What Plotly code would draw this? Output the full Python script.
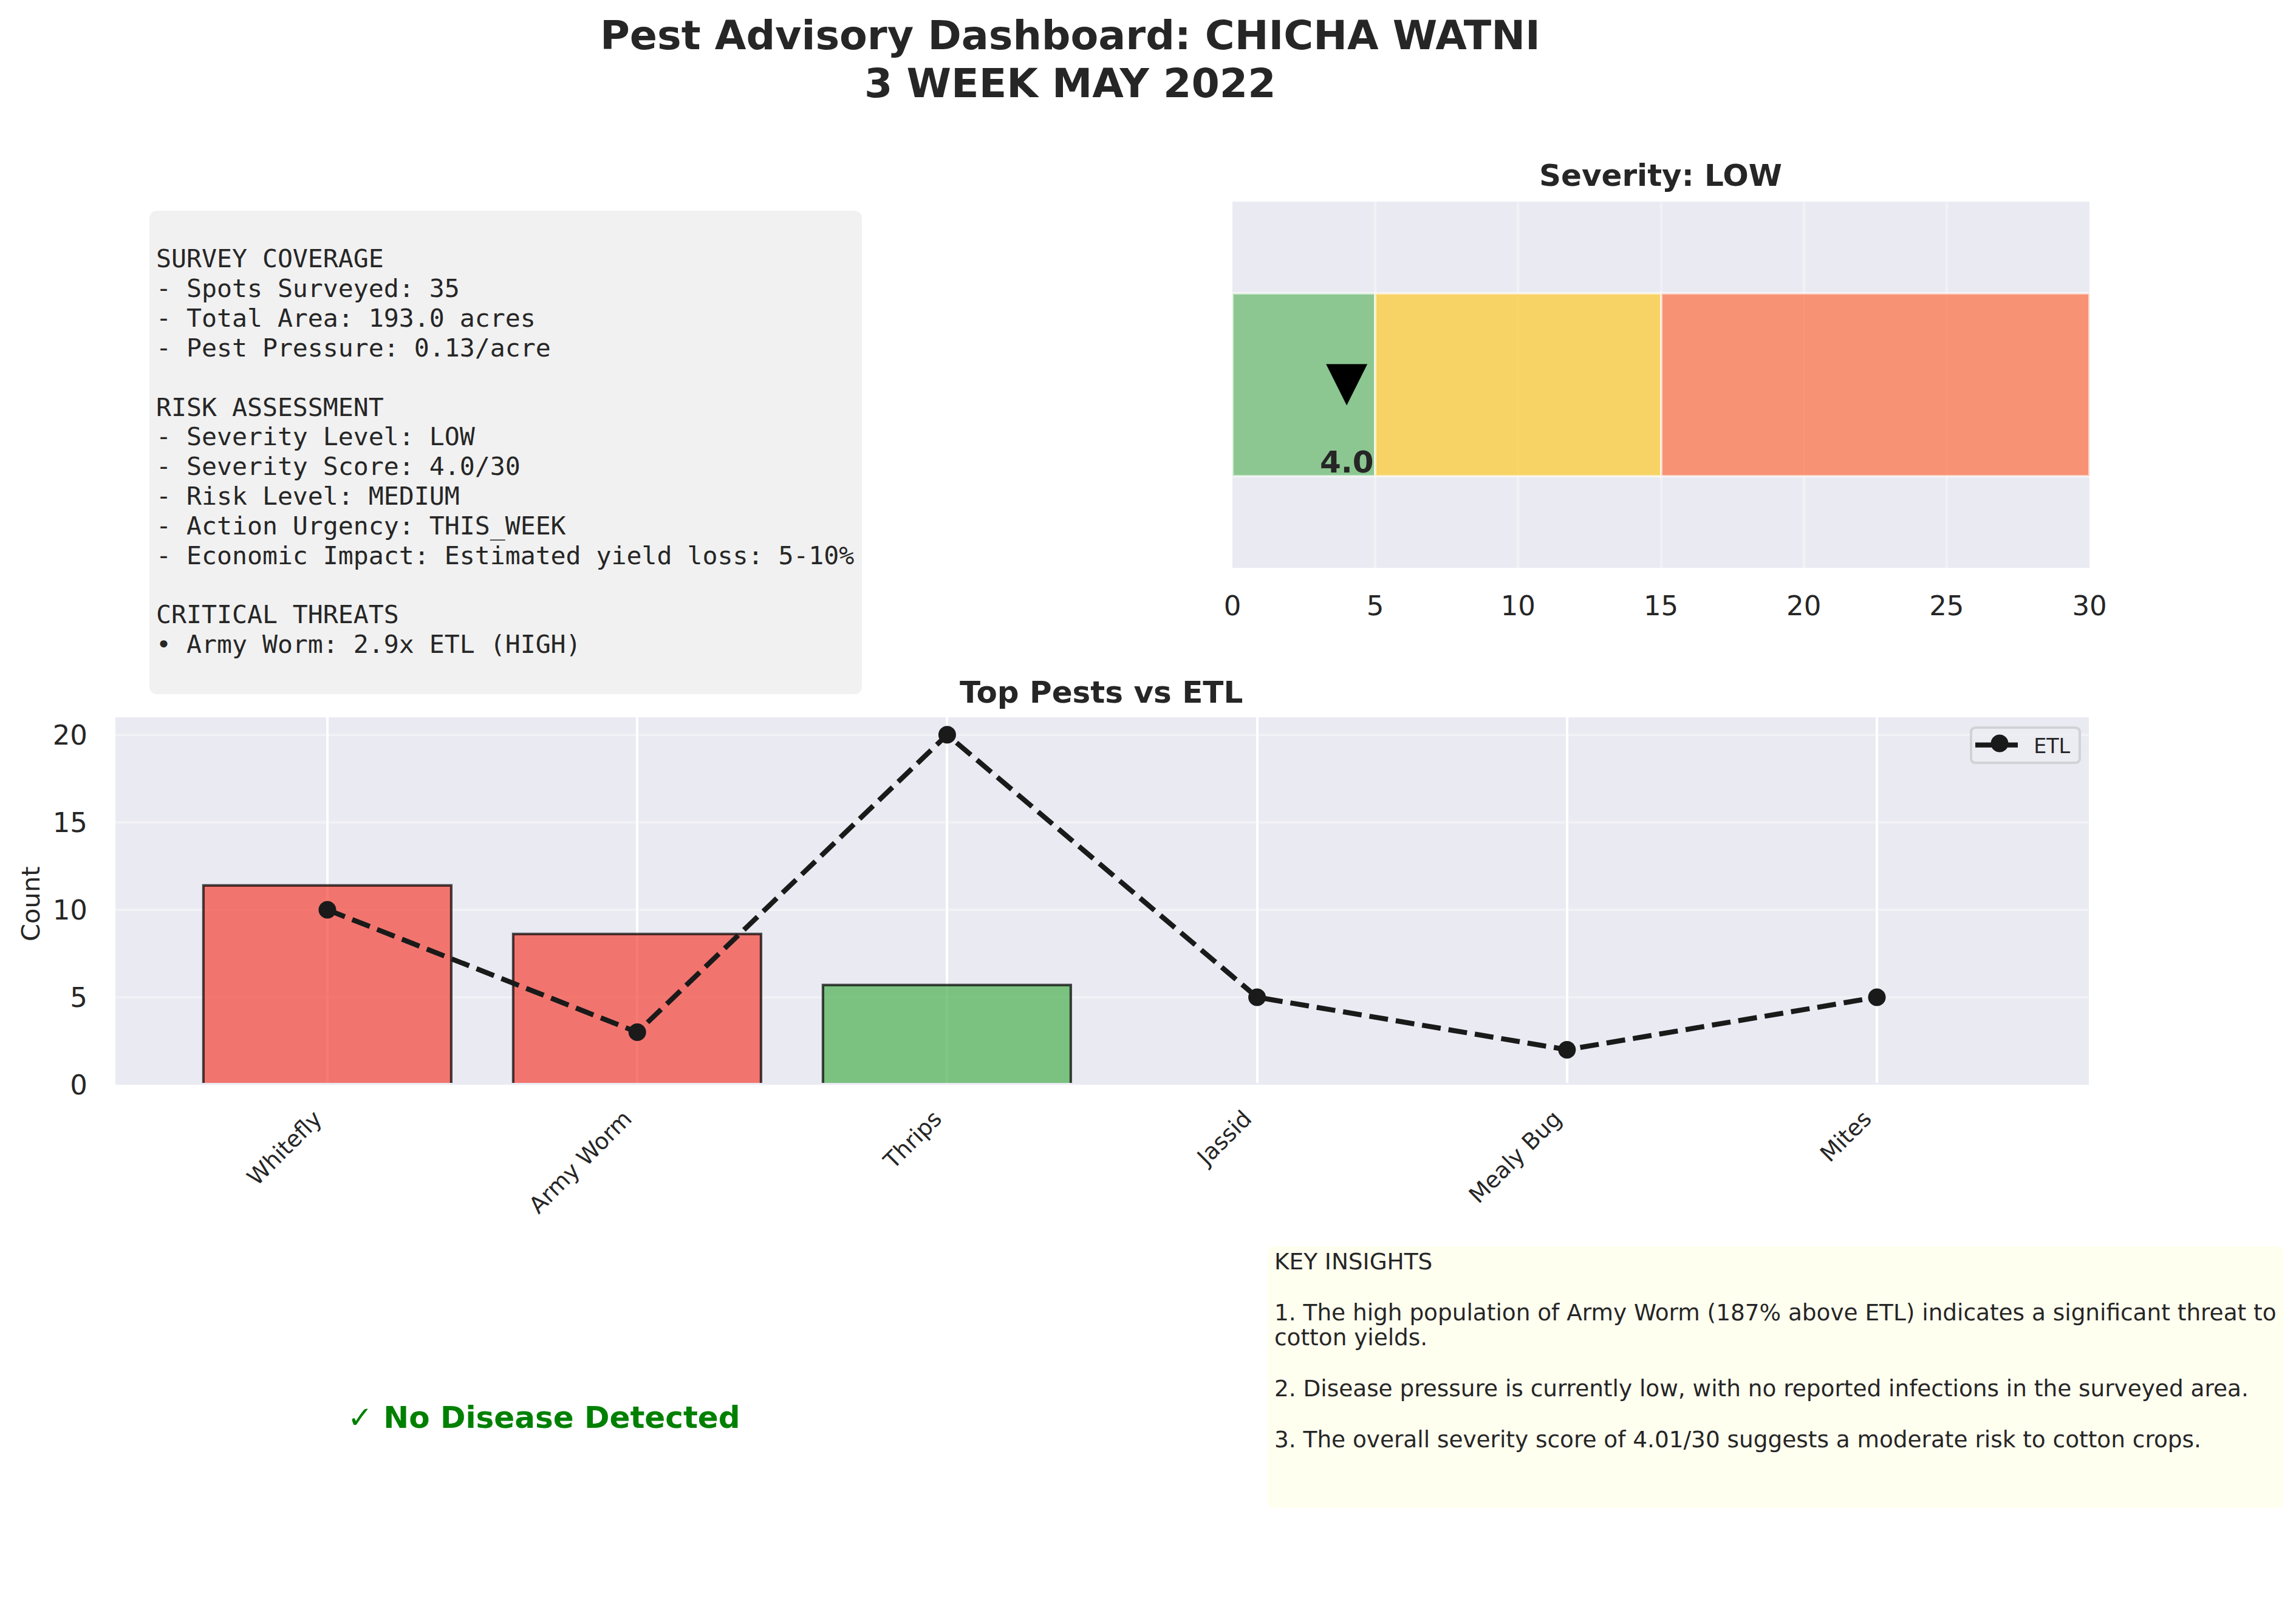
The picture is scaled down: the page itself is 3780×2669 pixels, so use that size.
import plotly.graph_objects as go

W, H = 3780, 2669

# ---------- data ----------
pests = ["Whitefly", "Army Worm", "Thrips", "Jassid", "Mealy Bug", "Mites"]
pest_counts = [11.4, 8.6, 5.7, 0, 0, 0]
pest_colors = ["rgba(244,67,54,0.7)", "rgba(244,67,54,0.7)", "rgba(76,175,80,0.7)",
               "rgba(76,175,80,0.7)", "rgba(76,175,80,0.7)", "rgba(76,175,80,0.7)"]
pest_edges = ["rgba(0,0,0,0.7)", "rgba(0,0,0,0.7)", "rgba(0,0,0,0.7)",
              "rgba(0,0,0,0.06)", "rgba(0,0,0,0.06)", "rgba(0,0,0,0.06)"]
etl_values = [10, 3, 20, 5, 2, 5]

zone_starts = [0, 5, 15]
zone_widths = [5, 10, 15]
zone_colors = ["rgba(76,175,80,0.6)", "rgba(255,193,7,0.6)", "rgba(255,87,34,0.6)"]
severity_score = 4.0
severity_label = "4.0"

title_lines = ["Pest Advisory Dashboard: CHICHA WATNI", "3 WEEK MAY 2022"]
summary_lines = [
    "SURVEY COVERAGE", "- Spots Surveyed: 35", "- Total Area: 193.0 acres",
    "- Pest Pressure: 0.13/acre", "", "RISK ASSESSMENT", "- Severity Level: LOW",
    "- Severity Score: 4.0/30", "- Risk Level: MEDIUM", "- Action Urgency: THIS_WEEK",
    "- Economic Impact: Estimated yield loss: 5-10%", "", "CRITICAL THREATS",
    "• Army Worm: 2.9x ETL (HIGH)",
]
insight_lines = [
    "KEY INSIGHTS", "",
    "1. The high population of Army Worm (187% above ETL) indicates a significant threat to",
    "cotton yields.", "",
    "2. Disease pressure is currently low, with no reported infections in the surveyed area.", "",
    "3. The overall severity score of 4.01/30 suggests a moderate risk to cotton crops.",
]

# ---------- style ----------
SANS, MONO = "DejaVu Sans", "DejaVu Sans Mono"
INK, BG = "#262626", "#EAEAF2"
PT = 300 / 72


def fx(px):
    return px / W


def fy(px):
    return 1 - px / H


def text(s, x, y, size, family=SANS, bold=False, color=INK, xanchor="center", angle=0):
    return dict(text=s, xref="paper", yref="paper", x=fx(x), y=fy(y), xanchor=xanchor,
                yanchor="middle", showarrow=False, align="left", textangle=angle,
                font=dict(family=family, size=size, color=color,
                          weight="bold" if bold else "normal"))


def round_box(x0, y0, x1, y1, r, fill, layer="below", line=None):
    xa, xb, ya, yb = fx(x0), fx(x1), fy(y0), fy(y1)
    rx, ry = r / W, r / H
    path = (f"M{xa+rx},{ya} L{xb-rx},{ya} Q{xb},{ya} {xb},{ya-ry} L{xb},{yb+ry} "
            f"Q{xb},{yb} {xb-rx},{yb} L{xa+rx},{yb} Q{xa},{yb} {xa},{yb+ry} "
            f"L{xa},{ya-ry} Q{xa},{ya} {xa+rx},{ya} Z")
    return dict(type="path", path=path, xref="paper", yref="paper", fillcolor=fill,
                line=line or dict(width=0), layer=layer)


fig = go.Figure()

# severity gauge
fig.add_trace(go.Bar(x=zone_widths, base=zone_starts, y=[0, 0, 0], orientation="h", width=1,
                     marker=dict(color=zone_colors,
                                 line=dict(color="rgba(255,255,255,0.6)", width=4)),
                     xaxis="x", yaxis="y", showlegend=False, hoverinfo="skip"))

# pest bars and ETL
fig.add_trace(go.Bar(x=pests, y=pest_counts, width=0.8,
                     marker=dict(color=pest_colors, line=dict(color=pest_edges, width=4.2)),
                     xaxis="x2", yaxis="y2", showlegend=False))
fig.add_trace(go.Scatter(x=pests, y=etl_values, name="\u00a0\u00a0ETL", mode="lines+markers",
                         line=dict(color="#1a1a1a", width=8.3, dash="31px,13px"),
                         marker=dict(color="#1a1a1a", size=29),
                         xaxis="x2", yaxis="y2"))

annotations = [text(s, 1762, y, 16 * PT, bold=True) for s, y in zip(title_lines, [58, 137])]
annotations += [text(s, 255, 426 + 48.8 * i, 41.5, family=MONO, xanchor="left")
                for i, s in enumerate(summary_lines) if s]
annotations += [text(s, 2096, 2076.7 + 41.9 * i, 37.4, xanchor="left")
                for i, s in enumerate(insight_lines) if s]
annotations += [
    text("Severity: LOW", 2734, 289, 12 * PT, bold=True),
    text("Top Pests vs ETL", 1813, 1140, 12 * PT, bold=True),
    text("Count", 50, 1488, 10 * PT, angle=-90),
    text("✓ No Disease Detected", 895, 2334, 12 * PT, bold=True, color="#008000"),
    dict(text=severity_label, x=severity_score, y=-0.5, xref="x", yref="y", showarrow=False,
         xanchor="center", yanchor="bottom", yshift=-8,
         font=dict(family=SANS, size=12 * PT, color=INK, weight="bold")),
]

shapes = [
    round_box(246, 347, 1419, 1143, 14, "#F1F1F1"),
    round_box(2087, 2052, 3760, 2483, 12, "#FFFFF0"),
    dict(type="path", xref="x", yref="y", xsizemode="pixel", ysizemode="pixel",
         xanchor=severity_score, yanchor=0, path="M-34,34 L34,34 L0,-34 Z",
         fillcolor="black", line=dict(width=0), layer="above"),
    # matplotlib clips the bars' lower edge at the axis: hide it the same way
    dict(type="rect", xref="x2 domain", yref="y2", ysizemode="pixel", yanchor=0,
         x0=0, x1=1, y0=0, y1=3, fillcolor=BG, line=dict(width=0), layer="above"),
    # legend frame and key marker sit under the (transparent) legend
    round_box(3245, 1198, 3424, 1256, 8, "rgba(236,236,243,0.9)", layer="above",
              line=dict(color="#D2D2D6", width=4)),
    dict(type="circle", xref="paper", yref="paper", xsizemode="pixel", ysizemode="pixel",
         xanchor=fx(3292), yanchor=fy(1224), x0=-14.5, x1=14.5, y0=-14.5, y1=14.5,
         fillcolor="#1a1a1a", line=dict(width=0), layer="above"),
]

fig.update_layout(
    width=W, height=H, margin=dict(l=0, r=0, t=0, b=0, pad=0), autosize=False,
    paper_bgcolor="white", plot_bgcolor=BG, barmode="overlay", bargap=0,
    font=dict(family=SANS, color=INK),
    annotations=annotations, shapes=shapes,
    xaxis=dict(domain=[fx(2029), fx(3440)], anchor="y", range=[0, 30], tickvals=[0, 5, 10, 15, 20, 25, 30],
               showgrid=True, gridcolor="rgba(255,255,255,0.35)", gridwidth=4, zeroline=False,
               automargin=False, ticks="outside", ticklen=23, tickcolor="rgba(0,0,0,0)",
               tickfont=dict(family=SANS, size=45, color=INK)),
    yaxis=dict(domain=[fy(935), fy(332)], anchor="x", range=[-1, 1], showticklabels=False,
               showgrid=False, zeroline=False, automargin=False),
    xaxis2=dict(domain=[fx(190), fx(3439)], anchor="y2", type="category", range=[-0.684, 5.684],
                showgrid=True, gridcolor="white", gridwidth=4, zeroline=False, tickangle=-45,
                automargin=False, ticks="outside", ticklen=18, tickcolor="rgba(0,0,0,0)",
                ticklabelshift=-20,
                tickfont=dict(family=SANS, size=9 * PT, color=INK)),
    yaxis2=dict(domain=[fy(1786), fy(1181)], anchor="x2", range=[0, 21], tickvals=[0, 5, 10, 15, 20],
                showgrid=True, gridcolor="rgba(255,255,255,0.35)", gridwidth=4, zeroline=False,
                automargin=False, ticks="outside", ticklen=36, tickcolor="rgba(0,0,0,0)",
                tickfont=dict(family=SANS, size=45, color=INK)),
    legend=dict(x=fx(3247), y=fy(1227), xanchor="left", yanchor="middle", xref="paper", yref="paper",
                bgcolor="rgba(0,0,0,0)", borderwidth=0,
                font=dict(family=SANS, size=8 * PT, color=INK), itemwidth=70,
                itemsizing="trace"),
)

fig.write_html("out.html", config={"displayModeBar": False},
               post_script="document.documentElement.style.overflow='hidden';"
                           "document.body.style.margin='0';document.body.style.overflow='hidden';")
